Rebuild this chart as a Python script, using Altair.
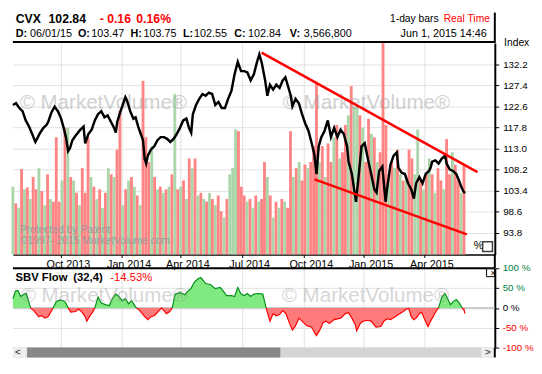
import altair as alt
import pandas as pd

FONT = "Liberation Sans"

# ---------------- data ----------------
# daily close (trading-day index from late Jul 2013, one px per trading day in the original)
price_day = [0, 3.3, 6.7, 10, 13.3, 16.7, 20, 23.3, 25, 28.3,
             31.7, 35, 36.7, 40, 43.3, 46.7, 50, 52.7, 55, 57.3,
             59.3, 61.7, 65, 70, 73.3, 75, 78.3, 81.7, 85, 88.3,
             91.7, 95, 98.3, 101.7, 105, 106.7, 108.3, 111.7, 115, 116.7,
             118.3, 121.7, 125, 127.3, 130, 132.7, 135, 136.7, 138.3, 140,
             143.3, 146.7, 150, 153.3, 156.7, 160, 163.3, 166.7, 170, 173.3,
             176.7, 180, 182.7, 185, 186.7, 190, 193.3, 196.7, 200, 203.3,
             206.7, 210, 213.3, 216.7, 220, 223.3, 226.7, 230, 233.3, 236.7,
             240, 243.3, 246.7, 250, 253.3, 255.7, 258.3, 261.7, 264, 266.7,
             270, 273.3, 276.7, 280, 282.7, 285, 288.3, 290, 293.3, 296.7,
             300, 303.3, 306.7, 310, 312.7, 315, 317.3, 320, 323.3, 326.7,
             330, 333.3, 336.7, 340, 343.3, 346.7, 348.3, 351.7, 354, 356,
             358.3, 361.7, 365, 368.3, 371.7, 375, 377.3, 380, 383.3, 386.7,
             388.3, 391.7, 395, 398.3, 400, 403.3, 406.7, 410, 413.3, 416,
             418.3, 421.7, 425, 428.3, 431.7, 433.3, 435, 438.3, 441.7, 445,
             448.3, 450, 453.3, 456.7, 460, 462.7, 465, 467.3, 469]
price_close = [122.9, 123.3, 122.2, 121.5, 119.4, 118.0, 116.3, 114.5, 115.2, 116.6,
               117.7, 118.4, 119.1, 121.2, 122.5, 121.5, 119.8, 117.7, 115.6, 112.4,
               113.1, 114.9, 115.9, 117.3, 118.0, 114.2, 116.3, 117.3, 119.4, 120.8,
               121.5, 120.1, 120.5, 119.1, 117.7, 116.6, 119.1, 121.5, 123.6, 124.7,
               124.0, 121.5, 119.8, 120.1, 118.0, 116.3, 114.9, 110.7, 109.6, 111.4,
               112.8, 113.5, 114.9, 115.6, 115.6, 115.2, 114.5, 115.2, 116.3, 117.7,
               119.4, 119.8, 117.7, 116.6, 120.8, 122.9, 124.3, 125.4, 125.0, 125.7,
               125.4, 122.9, 123.6, 122.2, 122.2, 124.3, 126.1, 129.9, 132.7, 130.6,
               130.6, 130.3, 128.5, 129.9, 132.7, 134.4, 132.4, 128.5, 125.0, 127.5,
               126.4, 127.5, 126.8, 128.5, 129.2, 127.5, 125.0, 122.6, 124.3, 123.3,
               120.8, 118.7, 117.0, 114.2, 111.7, 107.2, 113.5, 115.6, 117.0, 119.4,
               115.6, 117.7, 115.6, 117.3, 116.3, 113.5, 110.0, 107.2, 103.7, 100.9,
               105.8, 113.5, 114.2, 110.7, 107.2, 103.7, 103.0, 107.9, 108.9, 100.9,
               104.0, 109.3, 111.4, 112.1, 108.6, 107.5, 107.2, 105.1, 103.7, 101.6,
               105.1, 106.5, 105.1, 107.2, 107.9, 108.6, 110.0, 110.3, 109.6, 110.7,
               111.4, 109.6, 108.2, 107.9, 107.2, 105.8, 104.4, 103.3, 102.84]

# volume (millions), one bar every third trading day, with up (G) / down (R) day colour
vol_millions = [7.7, 5.8, 5.3, 9.7, 7.4, 7.6, 6.3, 8.8, 7.4, 9.8,
                7.2, 5.6, 9.1, 6.3, 6.0, 13.3, 6.0, 8.4, 14.4, 14.4,
                8.8, 8.4, 7.0, 5.6, 9.8, 7.0, 13.3, 8.8, 7.7, 6.3,
                7.4, 5.3, 7.0, 9.8, 9.1, 8.8, 11.9, 16.3, 5.6, 7.4,
                8.4, 8.8, 7.7, 6.7, 5.6, 19.7, 13.3, 10.5, 12.3, 8.8,
                7.4, 7.7, 7.0, 7.4, 7.7, 9.1, 18.2, 7.4, 7.7, 8.4,
                6.3, 10.9, 9.8, 10.9, 6.7, 7.0, 6.3, 6.0, 7.0, 6.3,
                5.6, 6.7, 4.9, 4.2, 6.3, 9.1, 9.8, 14.2, 14.0, 7.7,
                6.7, 6.0, 6.3, 5.3,
                6.7, 6.0, 6.3, 10.5, 8.8, 6.7, 4.2, 6.0, 5.3, 6.3,
                6.0, 5.3, 14.0, 8.8, 9.8, 10.5, 8.4, 10.2, 9.8, 10.5,
                12.3, 19.6, 10.5, 12.3, 8.8, 12.6, 10.5, 13.3, 14.7, 10.9,
                11.6, 14.7, 15.8, 19.1, 16.8, 16.8, 15.8, 14.4, 10.5, 15.4,
                13.7, 13.3, 10.5, 11.6, 24.0, 14.7, 9.1, 10.5, 9.8, 11.9,
                9.1, 8.4, 8.8, 11.9, 10.9, 9.1, 14.2, 8.4, 7.4, 9.1,
                10.9, 9.1, 7.0, 9.8, 8.4, 7.4, 13.1, 9.1, 11.6, 10.2,
                8.4, 7.0, 10.2]
vol_dir = list("GRGRGRGRRG" "RGRGRRRGRG" "RGRGRRRGRG" "RGRGRGRRGR" "GRGRGRRRGR"
               "GRGRGRGRGR" "GRGRGRGRGR" "GRRGRGGGRR" "RGRG"
               "RGRRGRGRGR" "GRRGRGRRGR" "RRGRGRRGRG" "RRGRGGRGRR" "GRGRRRGRGR"
               "GRGRRGGRGR" "GRGRRGRRGR" "RGR")

# SBV flow (%)
sbv_day = [0, 2.7, 5, 8.3, 11.7, 14, 18.3, 21.7, 26.7, 30,
           33.3, 36.7, 41.7, 45, 48.3, 52.7, 55, 57.3, 60, 65,
           68.3, 71.7, 75, 76.7, 80, 82.7, 85, 88.3, 91.7, 96.7,
           100, 103.3, 106.7, 110, 113.3, 116.7, 120, 123.3, 126.7, 128.3,
           131.7, 136.7, 140, 143.3, 146.7, 151.7, 154, 156.7, 159.3, 162.7,
           165.3, 168.3, 173.3, 178.3, 181.7, 185, 188.3, 191.7, 195, 200,
           205, 210, 215, 218.3, 221.7, 226.7, 230, 233.3, 236.7, 240,
           243.3, 246.7, 250, 255, 259.3, 262.7, 266.7, 270, 273.3, 276.7,
           280, 283.3, 287.3, 290, 293.3, 296.7, 300, 305, 310, 313.3,
           315, 318.3, 321.7, 325, 328.3, 333.3, 340, 345, 348.3, 351.7,
           355, 356.7, 360, 363.3, 368.3, 371.7, 376.7, 381.7, 385, 388.3,
           391.7, 396.7, 400, 405, 408.3, 410.7, 413.3, 416, 418.3, 421.7,
           424, 426.7, 430.7, 433.3, 436, 439.3, 441.7, 445, 448.3, 451.7,
           454, 456.7, 460, 463.3, 466, 468.3, 469]
sbv_pct = [23.5, 42.4, 43.9, 28.8, 34.8, 36.4, 0, -6.8, -22, -19.7,
           -25.8, -22, 0, 15.9, 19.7, 18.2, 12.1, 0, -10.6, -9.1,
           -3, -10.6, -22, -33.3, -19.7, -10.6, 0, 27.3, 12.1, 7.6,
           6.1, 23.5, 34.8, 28.8, 18.2, 23.5, 10.6, 18.2, 4.5, 0,
           -6.8, -22, -29.5, -22, -19.7, -6.8, 0, -6.8, -14.4, -9.1,
           0, 34.8, 38.6, 33.3, 42.4, 50, 65.2, 72.7, 76.5, 61.4,
           59.1, 48.5, 51.5, 42.4, 31.1, 31.1, 28.8, 51.5, 34.8, 31.1,
           36.4, 28.8, 34.8, 36.4, 34.8, 0, -33.3, -14.4, -19.7, -16.7,
           -6.8, -14.4, -40.9, -56, -44.7, -25.8, -33.3, -44.7, -48.5, -63.6,
           -69.7, -56, -37.1, -33.3, -39.4, -29.5, -25.8, -14.4, -12.1, -25.8,
           -40.9, -57.6, -40.9, -33.3, -31.1, -33.3, -48.5, -47, -33.3, -27.3,
           -29.5, -22, -16.7, -9.1, -3, -1.5, -22, -29.5, -25.8, -14.4,
           -10.6, -25.8, -47, -33.3, -22, -6.8, 0, 27.3, 36.4, 19.7,
           8.3, 15.9, 21.2, 12.1, 0, -6.8, -14.53]

# trend lines drawn on the price panel
trend_id = ["upper", "upper", "lower", "lower"]
trend_day = [258, 482, 313, 471]
trend_price = [134.8, 107.65, 106.0, 93.5]

# axis ticks / labels
month_day = [50, 113, 174, 238, 302, 364, 427]
month_label = ["Oct 2013", "Jan 2014", "Apr 2014", "Jul 2014", "Oct 2014", "Jan 2015", "Apr 2015"]
price_ticks = [93.8, 98.6, 103.4, 108.2, 113.0, 117.8, 122.6, 127.4, 132.2]
sbv_ticks = [100, 50, 0, -50, -100]

# header texts
ticker, last_px, chg, chg_pct = "CVX", "102.84", "- 0.16", "0.16%"
quote_keys = ["D:", "O:", "H:", "L:", "C:", "V:"]
quote_vals = ["06/01/15", "103.47", "103.75", "102.55", "102.84", "3,566,800"]
bar_txt, rt_txt, stamp_txt = "1-day bars", "Real Time", "Jun 1, 2015 14:46"
sbv_name, sbv_param, sbv_last = "SBV Flow", "(32,4)", "-14.53%"

# ---------------- layout / style ----------------
W = 492
H_HEAD, H_MAIN, H_BAND, H_LOW, H_SCR = 31, 216, 14, 81, 10
VOL_UP, VOL_DN = "#aad6aa", "#ff8585"
UP_FILL, UP_LINE = "#80ea80", "#00901a"
DN_FILL, DN_LINE = "#ff7b7b", "#ff0000"
GRID = "#e1e1e1"
WM = "#9a9a9a"

one = pd.DataFrame({"k": [0]})


def txt(text, x, y, size=11, weight="normal", color="black", align="left", opacity=1.0):
    return alt.Chart(one).mark_text(
        text=text, font=FONT, fontSize=size, fontWeight=weight, color=color,
        align=align, baseline="middle", opacity=opacity,
    ).encode(x=alt.value(x), y=alt.value(y))


def rule(x1, x2, y1, y2, color="black", width=1.0):
    return alt.Chart(one).mark_rule(color=color, strokeWidth=width).encode(
        x=alt.value(x1), x2=alt.value(x2), y=alt.value(y1), y2=alt.value(y2))


XS = alt.Scale(domain=[0, 500], nice=False, zero=False)
month_expr = " : ".join(f"datum.value == {d} ? '{l}'" for d, l in zip(month_day, month_label)) + " : ''"
x_main_axis = alt.Axis(values=month_day, labelExpr=month_expr, labelOffset=7, labelFontSize=11,
                       labelColor="black", labelPadding=1, tickSize=3, tickColor="black",
                       domainColor="black", domainWidth=1.5, grid=True, gridColor=GRID,
                       title=None, labelFlush=False, labelOverlap=False)
x_grid_axis = alt.Axis(values=month_day, labels=False, ticks=False, domain=False, grid=True,
                       gridColor=GRID, title=None)

# ---------------- header ----------------
hx = [2.8, 17.5, 66.4, 80, 120, 133.3, 173.7, 185, 226, 240, 282.7, 297]
head_layers = [
    txt(ticker, 2.8, 7, 12.5, "bold"),
    txt(last_px, 36.4, 7, 12.5, "bold"),
    txt(chg, 88.6, 7, 12.5, "bold", "#ff0000"),
    txt(chg_pct, 126, 7, 12.5, "bold", "#ff0000"),
    txt(bar_txt, 385, 7, 10.5),
    txt(rt_txt, 487, 7, 10.5, color="#ff0000", align="right"),
    txt(stamp_txt, 483.8, 22, 11, align="right"),
]
for i, (k, v) in enumerate(zip(quote_keys, quote_vals)):
    head_layers.append(txt(k, hx[2 * i], 22, 11, "bold"))
    head_layers.append(txt(v, hx[2 * i + 1], 22, 11))
head_layers.append(rule(0, W, H_HEAD - 1, H_HEAD - 1, width=2))
head_layers.append(rule(W, W, 0, H_HEAD, width=2))
header = alt.layer(*head_layers).properties(width=W, height=H_HEAD)

# ---------------- main price panel ----------------
vol_df = pd.DataFrame({"day": list(range(0, 3 * len(vol_millions), 3)),
                       "vol": vol_millions, "dir": vol_dir})
price_df = pd.DataFrame({"day": price_day, "close": price_close})
trend_df = pd.DataFrame({"id": trend_id, "day": trend_day, "close": trend_price})

PS = alt.Scale(domain=[88.9, 137.0], nice=False, zero=False)
price_axis = alt.Axis(orient="right", values=price_ticks, format=".1f", labelFontSize=10,
                      labelColor="black", labelPadding=4, tickSize=4, tickColor="black",
                      domainColor="black", domainWidth=2, grid=True, gridColor=GRID,
                      title="Index", titleAngle=0, titleAlign="left", titleBaseline="middle",
                      titleX=9, titleY=0, titleFontSize=10.5, titleFontWeight="normal",
                      titleColor="black", labelFlush=False, labelOverlap=False)

bars = alt.Chart(vol_df).mark_rule(strokeWidth=2.9).encode(
    x=alt.X("day:Q", scale=XS, axis=x_main_axis),
    y=alt.Y("vol:Q", scale=alt.Scale(domain=[0, 24], nice=False), axis=None),
    y2=alt.datum(0),
    color=alt.Color("dir:N", scale=alt.Scale(domain=["G", "R"], range=[VOL_UP, VOL_DN]), legend=None),
)
price_line = alt.Chart(price_df).mark_line(color="black", strokeWidth=2.5).encode(
    x=alt.X("day:Q", scale=XS, axis=x_main_axis),
    y=alt.Y("close:Q", scale=PS, axis=price_axis),
)
trend = alt.Chart(trend_df).mark_line(color="#ff0000", strokeWidth=2.5).encode(
    x=alt.X("day:Q", scale=XS, axis=x_main_axis),
    y=alt.Y("close:Q", scale=PS, axis=None),
    detail="id:N",
)
main = alt.layer(
    bars,
    txt("© MarketVolume®", 6.9, 61, 21, color=WM, opacity=0.45),
    txt("© MarketVolume®", 275.5, 61, 21, color=WM, opacity=0.45),
    txt("Protected by Patent", 7.2, 191, 10.5, color="#989898"),
    txt("©1997- 2015 MarketVolume.com", 7.2, 202, 10.5, color="#989898"),
    price_line,
    trend,
    txt("%", 470.4, 207.5, 11),
    alt.Chart(one).mark_square(size=100, fill="white", stroke="#404040", strokeWidth=1.5, opacity=1)
    .encode(x=alt.value(484.6), y=alt.value(208)),
).resolve_scale(y="independent").properties(width=W, height=H_MAIN)

# ---------------- band holding the month labels ----------------
band = rule(W, W, 0, H_BAND, width=2).properties(width=W, height=H_BAND)

# ---------------- SBV flow panel ----------------
SS = alt.Scale(domain=[-100, 100], nice=False, zero=False)
sbv_axis = alt.Axis(orient="right", values=sbv_ticks, labels=False, tickSize=4, tickColor="black",
                    domainColor="black", domainWidth=2, grid=True, gridColor=GRID, title=None)
sbv_df = pd.DataFrame({"day": sbv_day, "pct": sbv_pct})
sbv_df["up"] = sbv_df["pct"].clip(lower=0)
sbv_df["dn"] = sbv_df["pct"].clip(upper=0)


def runs(positive):
    rows, seg, prev = [], 0, False
    for d, v in zip(sbv_day, sbv_pct):
        inside = v >= 0 if positive else v <= 0
        if inside:
            if not prev:
                seg += 1
            rows.append({"day": d, "pct": v, "seg": seg})
        prev = inside
    return pd.DataFrame(rows)


def xg():
    return alt.X("day:Q", scale=XS, axis=x_grid_axis)


area_up = alt.Chart(sbv_df).mark_area(color=UP_FILL, opacity=1).encode(
    x=xg(), y=alt.Y("up:Q", scale=SS, axis=sbv_axis), y2=alt.datum(0))
area_dn = alt.Chart(sbv_df).mark_area(color=DN_FILL, opacity=1).encode(
    x=xg(), y=alt.Y("dn:Q", scale=SS, axis=sbv_axis), y2=alt.datum(0))
line_up = alt.Chart(runs(True)).mark_line(color=UP_LINE, strokeWidth=1.2).encode(
    x=xg(), y=alt.Y("pct:Q", scale=SS, axis=sbv_axis), detail="seg:N")
line_dn = alt.Chart(runs(False)).mark_line(color=DN_LINE, strokeWidth=1.2).encode(
    x=xg(), y=alt.Y("pct:Q", scale=SS, axis=sbv_axis), detail="seg:N")
zero_rule = alt.Chart(one).mark_rule(color="#b4b4b4", strokeWidth=1.2).encode(
    y=alt.Y("z:Q", scale=SS, axis=sbv_axis),
    x=alt.value(0), x2=alt.value(W)).transform_calculate(z="0")

lab_df = pd.DataFrame({"v": sbv_ticks, "lab": [f"{t} %" for t in sbv_ticks]})
label_layers = []
for cond, col in [("datum.v > 0", "#008040"), ("datum.v == 0", "black"), ("datum.v < 0", "#ff0000")]:
    label_layers.append(
        alt.Chart(lab_df).transform_filter(cond).mark_text(
            font=FONT, fontSize=10, align="left", baseline="middle", color=col)
        .encode(y=alt.Y("v:Q", scale=SS, axis=sbv_axis), x=alt.value(W + 8), text="lab:N"))

lower = alt.layer(
    zero_rule, area_up, area_dn, line_up, line_dn,
    txt("© MarketVolume®", 7.9, 28.5, 21, color=WM, opacity=0.4),
    txt("© MarketVolume®", 274.5, 28.5, 21, color=WM, opacity=0.4),
    txt(sbv_name, 2.7, 9.5, 11.5, "bold"),
    txt(sbv_param, 61.7, 9.5, 11.5, "bold"),
    txt(sbv_last, 99.4, 9.5, 11.5, color="#ff0000"),
    rule(0, W, 0, 0, width=2),
    alt.Chart(one).mark_square(size=64, fill="white", stroke="black", strokeWidth=1, opacity=1)
    .encode(x=alt.value(487.6), y=alt.value(4.6)),
    txt("×", 487.6, 4.4, 9),
    *label_layers,
).properties(width=W, height=H_LOW)

# ---------------- scrollbar ----------------
def box(x1, x2, color):
    return alt.Chart(one).mark_rect(color=color).encode(
        x=alt.value(x1), x2=alt.value(x2), y=alt.value(0), y2=alt.value(H_SCR))


scroll = alt.layer(
    box(0, W, "#d4d4d4"),
    box(0, 14, "#eeeeee"),
    box(478, W, "#eeeeee"),
    box(14.5, 273, "#878787"),
    txt("<", 5, 5, 10, "bold", "#555555", "center"),
    txt(">", 485, 5, 10, "bold", "#555555", "center"),
    rule(W, W, 0, H_SCR, width=2),
).properties(width=W, height=H_SCR)

chart = alt.vconcat(header, main, band, lower, scroll, spacing=0, bounds="flush").properties(
    padding=0).configure(font=FONT).configure_view(strokeWidth=0)

chart.save("out.html", embed_options={"renderer": "svg", "actions": False})
